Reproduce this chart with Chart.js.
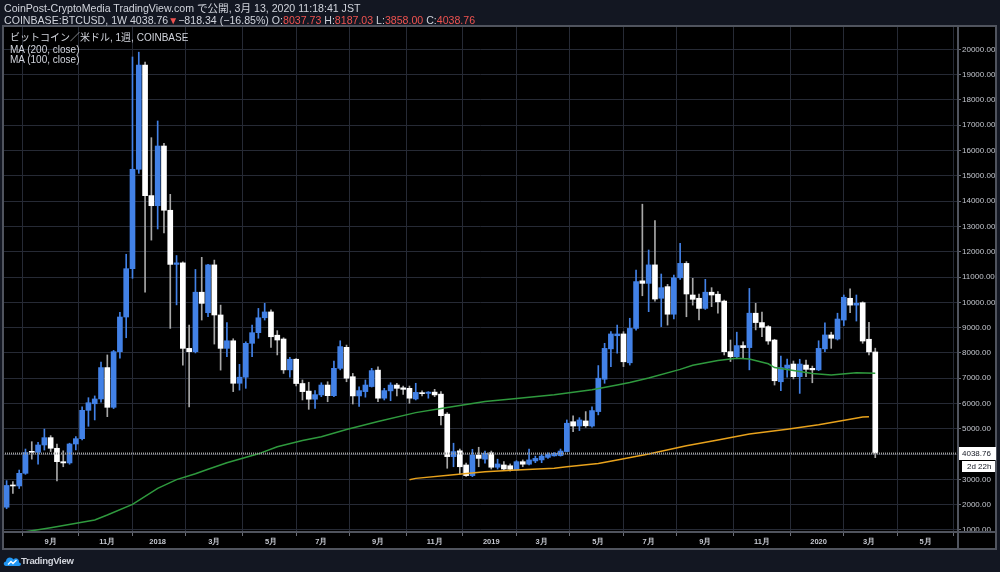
<!DOCTYPE html>
<html><head><meta charset="utf-8">
<script src="https://cdn.jsdelivr.net/npm/chart.js@4"></script>
<style>
html,body{margin:0;padding:0;background:#131722;width:1000px;height:572px;overflow:hidden;font-family:"Liberation Sans","Noto Sans CJK JP",Arial,sans-serif;}
#wrap{position:relative;width:1000px;height:572px;}
canvas{position:absolute;left:0;top:0;}
.hdr{position:absolute;left:4px;color:#d1d4dc;font-size:10.6px;white-space:nowrap;line-height:12px;}
.red{color:#ef5350;}
.leg{position:absolute;left:10px;color:#d1d4dc;white-space:nowrap;line-height:12px;}
#foot{position:absolute;left:21px;top:555px;color:#d1d4dc;font-size:9.5px;font-weight:bold;letter-spacing:-0.3px;}
</style></head><body>
<div id="wrap">
<canvas id="c" width="1000" height="572"></canvas>
<div class="hdr" style="top:2px">CoinPost-CryptoMedia TradingView.com で公開, 3月 13, 2020 11:18:41 JST</div>
<div class="hdr" style="top:14px">COINBASE:BTCUSD, 1W 4038.76<span class="red" style="font-size:10px">▼</span>−818.34 (−16.85%) O:<span class="red">8037.73</span> H:<span class="red">8187.03</span> L:<span class="red">3858.00</span> C:<span class="red">4038.76</span></div>
<div class="leg" style="top:32px;font-size:10px">ビットコイン／米ドル, 1週, COINBASE</div>
<div class="leg" style="top:44px;font-size:10px">MA (200, close)</div>
<div class="leg" style="top:54px;font-size:10px">MA (100, close)</div>
<svg width="18" height="13" style="position:absolute;left:3px;top:554px"><path d="M3 12 C0 12 0 7.5 3 7.5 C3 3 8.5 2 10.5 5.5 C12.5 3 16.5 4.5 16 8.5 C18.5 8.5 18.5 12 16 12 Z" fill="#2196f3"/><path d="M5 10.5 L8 7.5 L10 9.5 L13.5 6" stroke="#fff" stroke-width="1.3" fill="none"/></svg>
<div id="foot">TradingView</div>
</div>
<script>
// ---- data ----
const firstWeek = '2017-07-17';
const opens  = [1900,2760,2740,3240,4110,4070,4360,4650,4230,3700,3650,4400,4610,5730,5990,6180,7420,5850,8050,9420,11330,15260,19380,14220,13820,16180,13640,11500,11560,8180,8050,10400,9590,11480,9500,8180,8480,6800,7040,8380,8800,9390,9620,8700,8550,7330,7750,6790,6490,6170,6340,6730,6310,7390,8220,7060,6300,6470,6670,7320,6210,6500,6730,6620,6600,6180,6420,6400,6450,6370,5580,3900,4130,3570,3150,3960,3800,4050,3480,3570,3540,3370,3700,3600,3730,3770,3870,3930,3940,4100,5280,5110,5310,5110,5680,6960,8160,8680,8750,7610,8970,10850,10750,11480,10160,10620,9530,10970,11540,10290,10160,9760,10400,10320,10050,8050,7850,8290,8210,9570,9200,9040,8510,6860,7390,7560,7060,7520,7390,7330,8160,8710,8550,9300,10160,9890,9985,8540,8037.73];
const highs  = [2950,2910,3370,4200,4490,4470,4990,4730,4400,4130,4430,4690,5870,6230,6300,7640,7920,8100,9600,11900,19700,19890,19500,16510,17170,16290,14270,11850,11600,9100,11300,11780,11500,11670,9890,9200,8560,7550,8440,9100,9760,9960,9700,8880,8600,7830,7780,6930,6840,6510,6820,6860,7680,8480,8310,7190,6660,6930,7390,7450,6600,6820,6800,6690,6690,6800,6500,6470,6560,6470,5640,4430,4200,3640,4190,4270,4120,4120,3800,3700,3610,3740,3770,4200,3920,3990,4050,4060,4200,5350,5510,5440,5680,5870,7500,8380,8840,9100,8840,9370,11280,13880,12070,13230,11120,10710,11080,12330,11610,10950,10330,10910,10580,10430,10090,8510,8820,8440,10550,9960,9610,9080,8540,7880,7760,7680,7750,7720,7480,8480,9190,8820,9570,10290,10530,10290,10020,9210,8187.03];
const lows   = [1840,2450,2640,3200,3800,3600,4160,4100,2940,3500,3600,4170,4560,5100,5350,6050,5480,5800,7790,8600,10950,15100,10400,12460,12900,12740,8970,9900,7520,5870,8000,9300,9430,8350,7320,7850,6470,6530,6600,7850,8580,9300,8220,7920,7190,7040,6700,6140,5770,5810,6270,6070,6270,7330,6860,5980,5880,6250,6650,6070,6140,6110,6300,6360,6010,6140,6300,6210,6270,5150,3440,3500,3210,3120,3110,3500,3640,3410,3410,3370,3330,3360,3500,3570,3660,3660,3830,3920,3920,4090,4890,4930,5060,5060,5550,6800,7460,7990,7460,7520,8900,10260,9630,10050,9040,9100,9340,10910,9430,9890,9300,9720,9830,9570,7920,7660,7770,7790,7330,8910,8640,8340,6730,6510,7040,6970,6400,7060,6820,7300,8050,8180,8510,9080,9590,9260,8380,7920,3858.00];
const closes = [2760,2740,3240,4060,4070,4360,4650,4230,3700,3650,4400,4610,5730,6030,6180,7420,5850,8050,9420,11330,15260,19380,14220,13820,16180,13640,11500,11560,8180,8050,10400,9960,11480,9500,8180,8480,6800,7040,8380,8800,9390,9620,8640,8510,7330,7750,6790,6470,6170,6350,6730,6310,7390,8250,7000,6300,6510,6730,7300,6210,6510,6730,6600,6560,6210,6440,6390,6450,6340,5520,3900,4100,3500,3150,3960,3830,4030,3480,3610,3410,3400,3700,3600,3770,3830,3920,4000,4030,4120,5220,5110,5350,5120,5720,7000,8180,8750,8750,7650,8970,10820,10750,11480,10130,10580,9530,10970,11540,10330,10120,9760,10400,10290,10020,8050,7850,8290,8210,9570,9200,9010,8470,6900,7420,7520,7060,7560,7350,7330,8180,8710,8580,9340,10200,9890,9960,8470,8040,4038.76];

const ma100Week  = [0,2,7,14,16,20,24,27,30,32,35,40,43,47,50,54,59,65,69,76,81,87,93,97,99,102,107,109,113,116,118,121,122,128,131,135,138];
const ma100Value = [820,890,1090,1395,1590,2010,2648,2990,3220,3400,3655,4010,4290,4540,4688,4970,5285,5640,5800,6075,6200,6350,6545,6730,6830,7010,7350,7510,7700,7787,7755,7570,7420,7190,7127,7215,7200];
const ma200Week  = [64,65,71,76,81,87,89,94,97,102,108,113,118,124,129,134,136,137];
const ma200Value = [2990,3040,3180,3305,3372,3445,3500,3630,3767,4000,4330,4560,4790,4980,5160,5376,5470,5479];

// first weekly bar of each labelled month
const tickDates  = ['2017-09-04','2017-11-06','2018-01-01','2018-03-05','2018-05-07','2018-07-02','2018-09-03','2018-11-05','2019-01-07','2019-03-04','2019-05-06','2019-07-01','2019-09-02','2019-11-04','2020-01-06','2020-03-02','2020-05-04'];
const tickLabels = ['9月','11月','2018','3月','5月','7月','9月','11月','2019','3月','5月','7月','9月','11月','2020','3月','5月'];
const priceTicks = [1000,2000,3000,4000,5000,6000,7000,8000,9000,10000,11000,12000,13000,14000,15000,16000,17000,18000,19000,20000];
const lastPrice = 4038.76;
const countdown = '2d 22h';

// ---- helpers ----
const DAY = 86400000, BASE = Date.parse('2018-01-01T00:00:00Z');
const dayOf = s => (Date.parse(s + 'T00:00:00Z') - BASE) / DAY;
const firstDay = dayOf(firstWeek);
const weekX = i => firstDay + 7 * i;
const tickDays = tickDates.map(dayOf);
const UP = '#4281e6', DOWN = '#ffffff', DOWNWICK = '#a8a8a8';
const FONT = "'Liberation Sans', Arial, sans-serif";
const isUp = i => closes[i] >= opens[i];

const wickData = closes.map((c, i) => ({x: weekX(i), y: [lows[i], highs[i]]}));
const bodyData = closes.map((c, i) => ({x: weekX(i), y: [opens[i], closes[i]]}));

const frame = {
  id: 'frame',
  beforeDraw(chart) {
    const ctx = chart.ctx;
    ctx.save();
    ctx.fillStyle = '#000000';
    ctx.fillRect(3, 26, 993, 523);
    ctx.restore();
  },
  afterDraw(chart) {
    const ctx = chart.ctx, a = chart.chartArea, y = chart.scales.y;
    const py = Math.round(y.getPixelForValue(lastPrice)) + 0.5;
    ctx.save();
    ctx.strokeStyle = '#a0a0a0';
    ctx.lineWidth = 2;
    ctx.setLineDash([1, 1]);
    ctx.beginPath(); ctx.moveTo(a.left, py); ctx.lineTo(a.right, py); ctx.stroke();
    ctx.setLineDash([]);
    ctx.strokeStyle = '#50545e';
    ctx.lineWidth = 2;
    ctx.strokeRect(3, 26, 993, 523);
    ctx.beginPath();
    ctx.moveTo(a.right, 26); ctx.lineTo(a.right, 549);
    ctx.moveTo(3, a.bottom); ctx.lineTo(996, a.bottom);
    ctx.stroke();
    // last price label
    ctx.fillStyle = '#ffffff';
    ctx.fillRect(a.right + 1, py - 6.5, 37, 13);
    ctx.fillRect(a.right + 4, py + 7.5, 33, 11);
    ctx.fillStyle = '#131722';
    ctx.font = '8px ' + FONT;
    ctx.textBaseline = 'middle';
    ctx.fillText(lastPrice.toFixed(2), a.right + 4, py);
    ctx.fillText(countdown, a.right + 9, py + 13);
    ctx.restore();
  }
};

new Chart(document.getElementById('c'), {
  type: 'bar',
  data: {
    datasets: [
      {type: 'line', label: 'MA (200, close)', data: ma200Week.map((w, k) => ({x: weekX(w), y: ma200Value[k]})),
       borderColor: '#e8a21c', borderWidth: 1.5, pointRadius: 0, tension: 0, order: 0},
      {type: 'line', label: 'MA (100, close)', data: ma100Week.map((w, k) => ({x: weekX(w), y: ma100Value[k]})),
       borderColor: '#2f9a3e', borderWidth: 1.5, pointRadius: 0, tension: 0, order: 0},
      {label: 'body', data: bodyData, backgroundColor: closes.map((c, i) => isUp(i) ? UP : DOWN),
       barThickness: 5, grouped: false, minBarLength: 1, order: 1},
      {label: 'wick', data: wickData, backgroundColor: closes.map((c, i) => isUp(i) ? UP : DOWNWICK),
       barThickness: 1, grouped: false, minBarLength: 1, order: 2}
    ]
  },
  options: {
    responsive: false, animation: false, devicePixelRatio: 1,
    layout: {padding: {left: 3, top: 26, right: 4, bottom: 23}},
    plugins: {legend: {display: false}, tooltip: {enabled: false}},
    scales: {
      x: {
        type: 'linear', min: -172.0, max: 890.0, offset: false,
        afterBuildTicks: s => { s.ticks = tickDays.map(v => ({value: v})); },
        afterFit: s => { s.height = 17; },
        grid: {color: '#262a35', lineWidth: 1, drawTicks: true, tickLength: 4, tickColor: '#6b6e78'},
        border: {display: false},
        ticks: {autoSkip: false, maxRotation: 0, minRotation: 0, padding: 1, color: '#c3c6ce',
                font: {size: 7.5, weight: 'bold', family: FONT},
                callback: (v, i) => tickLabels[i]}
      },
      y: {
        position: 'right', min: 920, max: 20925,
        afterBuildTicks: s => { s.ticks = priceTicks.map(v => ({value: v})); },
        afterFit: s => { s.width = 38; },
        grid: {color: '#262a35', lineWidth: 1, drawTicks: true, tickLength: 3, tickColor: '#6b6e78'},
        border: {display: false},
        ticks: {padding: 1, color: '#c3c6ce', font: {size: 8, family: FONT},
                callback: v => Number(v).toFixed(2)}
      }
    }
  },
  plugins: [frame]
});
</script>
</body></html>
